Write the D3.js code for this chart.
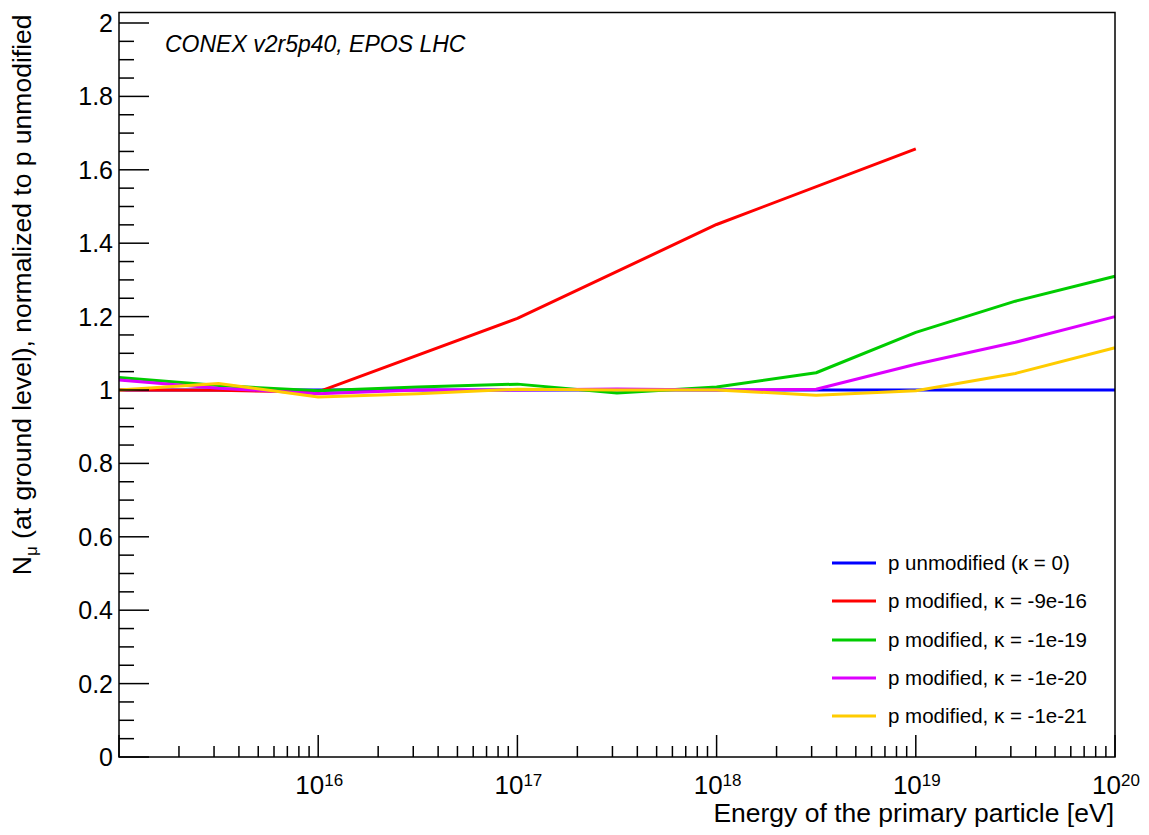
<!DOCTYPE html>
<html><head><meta charset="utf-8">
<script src="https://cdn.jsdelivr.net/npm/d3@7"></script>
<style>body{margin:0;background:#fff}svg{display:block}text{font-family:"Liberation Sans",Arial,sans-serif;fill:#000}</style>
</head><body><svg id="c" width="1149" height="835"></svg>
<script>
const energies = [1e15, 3.16e15, 1e16, 3.16e16, 1e17, 3.16e17, 1e18, 3.16e18, 1e19, 3.16e19, 1e20];
const redEnergies = [1e15, 3.16e15, 1e16, 1e17, 1e18, 1e19];
const blueVals   = [1.0, 1.0, 1.0, 1.0, 1.0, 1.0, 1.0, 1.0, 1.0, 1.0, 1.0];
const redVals    = [1.0, 0.999, 0.995, 1.195, 1.451, 1.657];
const greenVals  = [1.034, 1.012, 0.998, 1.008, 1.016, 0.992, 1.008, 1.047, 1.157, 1.242, 1.31];
const purpleVals = [1.027, 1.005, 0.99, 1.0, 1.0, 1.003, 1.0, 1.002, 1.07, 1.13, 1.20];
const yellowVals = [1.0, 1.018, 0.981, 0.99, 1.002, 1.0, 1.0, 0.986, 0.998, 1.045, 1.115];
const seriesNames = ["p unmodified (\u03ba = 0)", "p modified, \u03ba = -9e-16", "p modified, \u03ba = -1e-19", "p modified, \u03ba = -1e-20", "p modified, \u03ba = -1e-21"];
const seriesColors = ["#0000ff", "#ff0000", "#00cc00", "#dd00ff", "#ffcc00"];
const yTicks = [0, 0.2, 0.4, 0.6, 0.8, 1, 1.2, 1.4, 1.6, 1.8, 2];
const xDecades = [16, 17, 18, 19, 20];

const series = [
  {x: energies, y: blueVals}, {x: redEnergies, y: redVals}, {x: energies, y: greenVals},
  {x: energies, y: purpleVals}, {x: energies, y: yellowVals}
];

const L = 119, R = 1115, T = 12.5, B = 757;
const svg = d3.select("#c");
const x = d3.scaleLog().domain([1e15, 1e20]).range([L, R]);
const y = d3.scaleLinear().domain([0, 2.0286]).range([B, T]);

// lines
const line = d3.line().x(d => x(d[0])).y(d => y(d[1]));
const g = svg.append("g");
series.forEach((s, i) => {
  g.append("path").datum(s.x.map((e, k) => [e, s.y[k]]))
    .attr("d", line).attr("fill", "none").attr("stroke", seriesColors[i])
    .attr("stroke-width", 3).attr("stroke-linejoin", "round");
});

// frame
svg.append("rect").attr("x", L).attr("y", T).attr("width", R - L).attr("height", B - T)
  .attr("fill", "none").attr("stroke", "#000").attr("stroke-width", 1.5);

// y axis ticks
const yMinor = d3.range(0, 2.0001, 0.05);
svg.append("g").selectAll("line").data(yMinor).join("line")
  .attr("x1", L).attr("x2", (d, i) => L + (i % 4 === 0 ? 30 : 15))
  .attr("y1", d => y(d)).attr("y2", d => y(d)).attr("stroke", "#000").attr("stroke-width", 1.5);
svg.append("g").selectAll("text").data(yTicks).join("text")
  .attr("x", 113).attr("y", d => y(d)).attr("dy", "0.36em").attr("text-anchor", "end")
  .attr("font-size", 25).text(d => d3.format("~g")(d));

// x axis ticks
const xMinor = [];
for (let dcd = 15; dcd < 20; dcd++) for (let m = 1; m <= 9; m++) xMinor.push(m * Math.pow(10, dcd));
xMinor.push(1e20);
svg.append("g").selectAll("line").data(xMinor).join("line")
  .attr("x1", d => x(d)).attr("x2", d => x(d)).attr("y1", B)
  .attr("y2", d => { const l = Math.log10(d); return B - (Math.abs(l - Math.round(l)) < 1e-9 ? 22 : 11); })
  .attr("stroke", "#000").attr("stroke-width", 1.5);
const xl = svg.append("g").selectAll("text").data(xDecades).join("text")
  .attr("x", d => x(Math.pow(10, d)) + 1).attr("y", 794).attr("text-anchor", "middle").attr("font-size", 26);
xl.append("tspan").text("10");
xl.append("tspan").attr("dy", -8).attr("font-size", 17).text(d => d);

// axis titles
svg.append("text").attr("x", R - 1).attr("y", 822).attr("text-anchor", "end").attr("font-size", 26.5)
  .text("Energy of the primary particle [eV]");
const yt = svg.append("text").attr("transform", `translate(31,${T + 2}) rotate(-90)`)
  .attr("text-anchor", "end").attr("font-size", 26.5);
yt.append("tspan").text("N");
yt.append("tspan").attr("dy", 6).attr("font-size", 17).text("\u03bc");
yt.append("tspan").attr("dy", -6).text(" (at ground level), normalized to p unmodified");

// annotation
svg.append("text").attr("x", 165).attr("y", 52).attr("font-size", 23).attr("font-style", "italic")
  .text("CONEX v2r5p40, EPOS LHC");

// legend
const legY = [563, 601, 640, 678, 716];
const lg = svg.append("g");
seriesNames.forEach((n, i) => {
  lg.append("line").attr("x1", 832).attr("x2", 876).attr("y1", legY[i]).attr("y2", legY[i])
    .attr("stroke", seriesColors[i]).attr("stroke-width", 3);
  lg.append("text").attr("x", 888).attr("y", legY[i]).attr("dy", "0.36em").attr("font-size", 20.5).text(n);
});
</script></body></html>
